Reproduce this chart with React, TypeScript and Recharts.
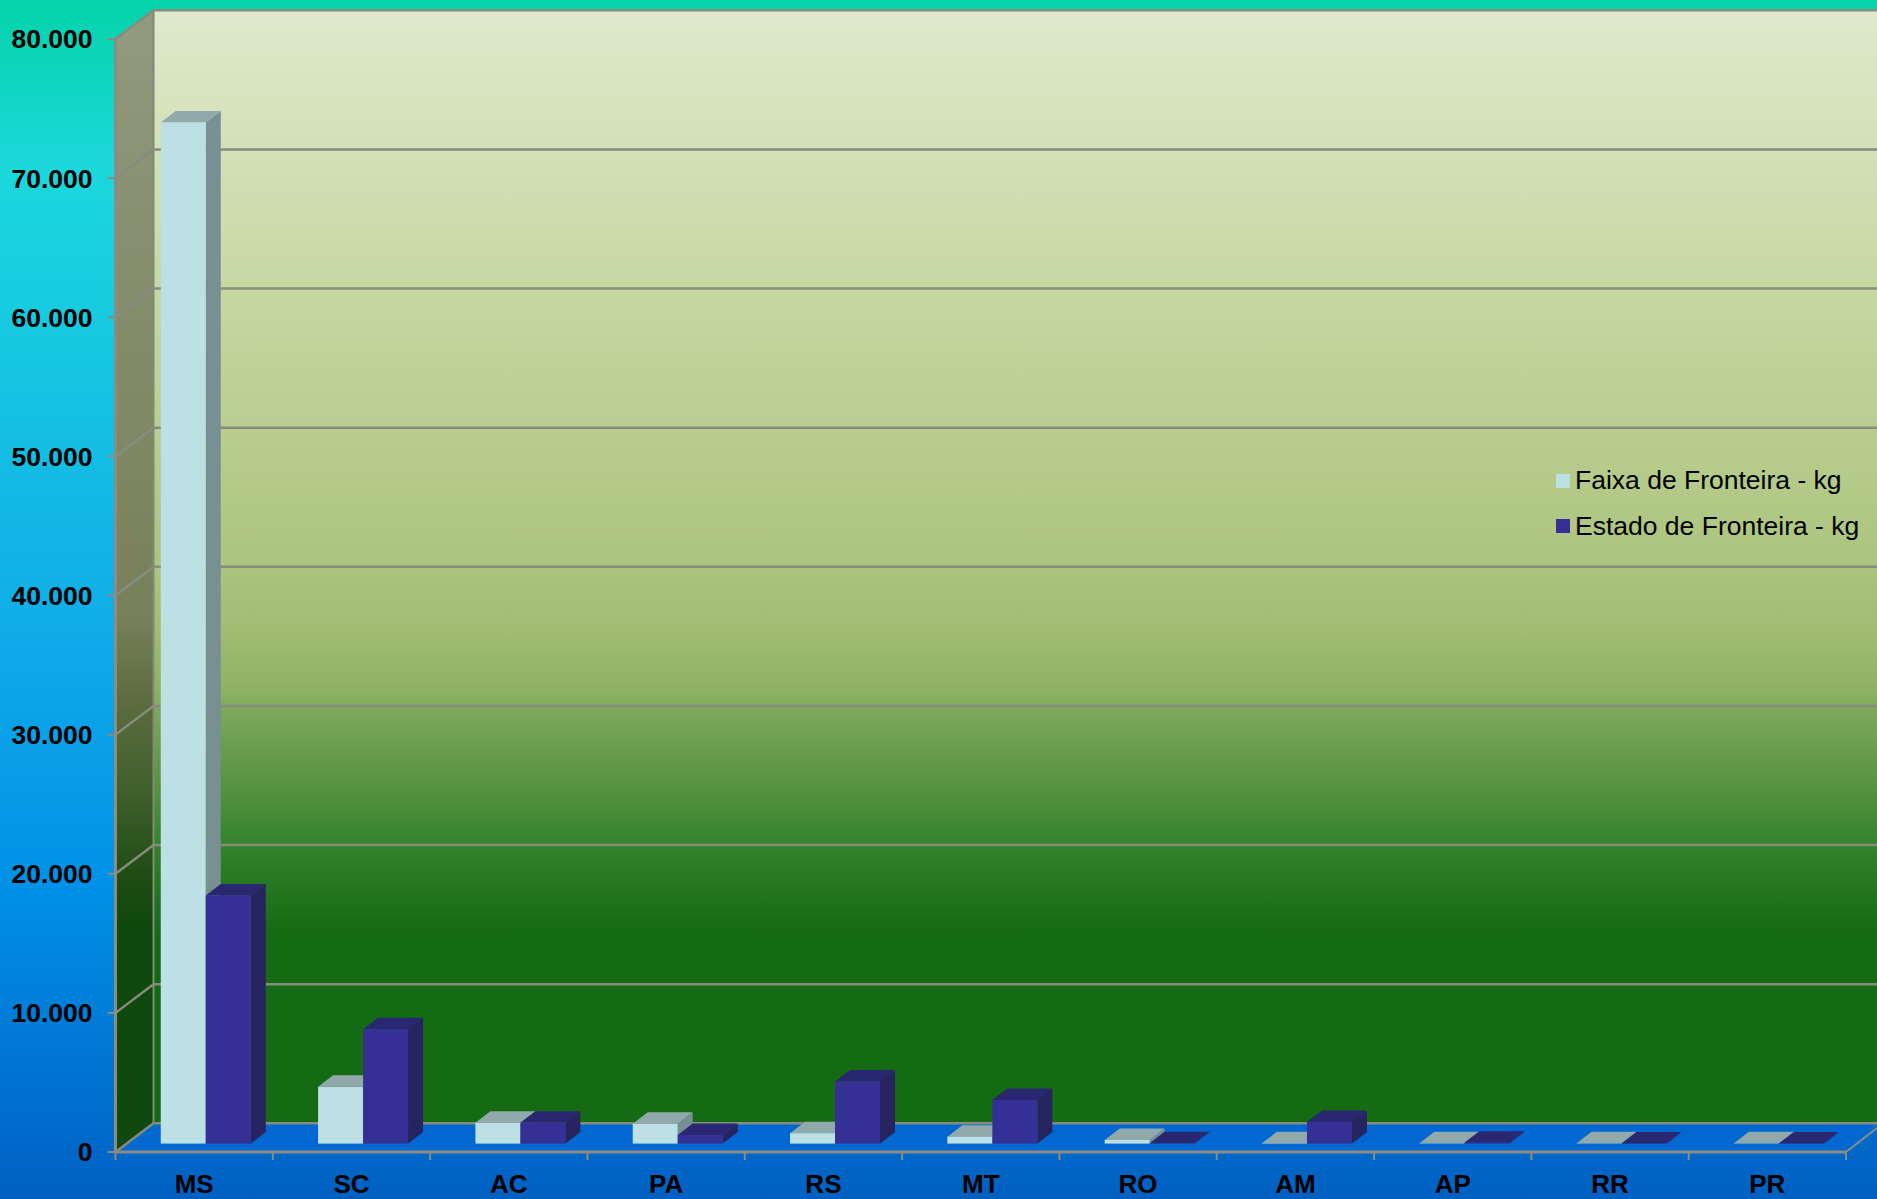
import { BarChart, Bar, XAxis, YAxis, CartesianGrid, Legend } from "recharts";

const states = ["MS", "SC", "AC", "PA", "RS", "MT", "RO", "AM", "AP", "RR", "PR"];
const faixaKg = [73400, 4080, 1490, 1420, 750, 500, 260, 30, 20, 20, 20];
const estadoKg = [17840, 8220, 1490, 620, 4460, 3140, 30, 1550, 60, 10, 10];
const yTicks = [0, 10000, 20000, 30000, 40000, 50000, 60000, 70000, 80000];

const data = states.map((state, i) => ({
  state,
  faixa: faixaKg[i],
  estado: estadoKg[i],
}));

const WIDTH = 1877;
const HEIGHT = 1199;
const PLOT_LEFT = 115.5;
const PLOT_RIGHT = 1846;
const PLOT_TOP = 39;
const PLOT_BOTTOM = 1152;
const BAND = (PLOT_RIGHT - PLOT_LEFT) / states.length;
// depth of the fake 3D box and of the bars inside it
const WALL_DX = 38;
const WALL_DY = 28.7;
const BAR_DX = 15;
const BAR_DY = 11.5;
const BAR_SHIFT_X = 11.6;
const BAR_SHIFT_Y = 8.4;
const GREY = "#8c8c84";

const backStops: [string, string][] = [
  ["0%", "#dfe9cc"],
  ["25%", "#c6d8a2"],
  ["50%", "#abc47e"],
  ["55%", "#a4bd74"],
  ["61%", "#8fb262"],
  ["62.5%", "#80a95c"],
  ["71%", "#4e8f3c"],
  ["76%", "#2f8028"],
  ["83%", "#156a14"],
  ["100%", "#156a14"],
];
const sideStops: [string, string][] = [
  ["0%", "#929a80"],
  ["30%", "#838a68"],
  ["53%", "#78805a"],
  ["60.5%", "#5c6c3e"],
  ["69%", "#3d5e2a"],
  ["76%", "#1f4c14"],
  ["80%", "#10490d"],
  ["100%", "#10490d"],
];

// box walls sit behind the chart, the grid and the bars are drawn on top of them
function Walls() {
  const backX = PLOT_LEFT + WALL_DX;
  const backTop = PLOT_TOP - WALL_DY;
  const backBottom = PLOT_BOTTOM - WALL_DY;
  return (
    <svg width={WIDTH} height={HEIGHT} style={{ position: "absolute", left: 0, top: 0 }}>
      <defs>
        <linearGradient id="backWall" x1="0" y1="0" x2="0" y2="1">
          {backStops.map(([o, c]) => (
            <stop key={o} offset={o} stopColor={c} />
          ))}
        </linearGradient>
        <linearGradient id="sideWall" x1="0" y1="0" x2="0" y2="1">
          {sideStops.map(([o, c]) => (
            <stop key={o} offset={o} stopColor={c} />
          ))}
        </linearGradient>
      </defs>
      <rect x={backX} y={backTop} width={WIDTH - backX} height={backBottom - backTop} fill="url(#backWall)" />
      <polygon
        points={`${PLOT_LEFT},${PLOT_TOP} ${backX},${backTop} ${backX},${backBottom} ${PLOT_LEFT},${PLOT_BOTTOM}`}
        fill="url(#sideWall)"
      />
      <polygon
        points={`${PLOT_LEFT},${PLOT_BOTTOM} ${backX},${backBottom} ${WIDTH},${backBottom} ${PLOT_RIGHT},${PLOT_BOTTOM}`}
        fill="#0068d0"
      />
      <line x1={backX} y1={backTop} x2={backX} y2={backBottom} stroke="#7f8a78" strokeWidth={2} />
      <line x1={PLOT_RIGHT} y1={PLOT_BOTTOM} x2={WIDTH} y2={PLOT_BOTTOM - 24} stroke={GREY} strokeWidth={2} />
    </svg>
  );
}

function GridLine(props: any) {
  const { x1, y1 } = props;
  return (
    <polyline
      points={`${x1},${y1} ${x1 + WALL_DX},${y1 - WALL_DY} ${WIDTH},${y1 - WALL_DY}`}
      fill="none"
      stroke="#878c7e"
      strokeWidth={2.5}
    />
  );
}

function Bar3D(props: any) {
  const { x, y, width, height, front, topFace, side } = props;
  const left = x + BAR_SHIFT_X;
  const right = left + width;
  const yTop = y - BAR_SHIFT_Y;
  const yBase = yTop + height;
  return (
    <g>
      <polygon
        points={`${right},${yTop} ${right + BAR_DX},${yTop - BAR_DY} ${right + BAR_DX},${yBase - BAR_DY} ${right},${yBase}`}
        fill={side}
      />
      <polygon
        points={`${left},${yTop} ${left + BAR_DX},${yTop - BAR_DY} ${right + BAR_DX},${yTop - BAR_DY} ${right},${yTop}`}
        fill={topFace}
      />
      <rect x={left} y={yTop} width={width} height={height} fill={front} />
    </g>
  );
}

function StateTick(props: any) {
  const { x, payload, index } = props;
  return (
    <g>
      <line x1={x - BAND / 2} y1={PLOT_BOTTOM} x2={x - BAND / 2} y2={PLOT_BOTTOM + 8} stroke={GREY} strokeWidth={2} />
      {index === states.length - 1 && (
        <line x1={x + BAND / 2} y1={PLOT_BOTTOM} x2={x + BAND / 2} y2={PLOT_BOTTOM + 8} stroke={GREY} strokeWidth={2} />
      )}
      <text x={x} y={HEIGHT - 6} textAnchor="middle" fontSize={26} fontWeight="bold" fill="#000">
        {payload.value}
      </text>
    </g>
  );
}

function LegendBox(props: any) {
  const { payload } = props;
  return (
    <div style={{ fontFamily: "Liberation Sans", fontSize: 26.5, color: "#000" }}>
      {(payload ?? []).map((item: any) => (
        <div key={item.value} style={{ height: 45.5, display: "flex", alignItems: "center", whiteSpace: "nowrap" }}>
          <span style={{ width: 14, height: 14, marginRight: 5, background: item.color, display: "inline-block" }} />
          {item.value}
        </div>
      ))}
    </div>
  );
}

export default function App() {
  return (
    <div
      style={{
        position: "absolute",
        left: 0,
        top: 0,
        width: WIDTH,
        height: HEIGHT,
        overflow: "hidden",
        fontFamily: "Liberation Sans",
        background:
          "linear-gradient(180deg, #05d3a8 0%, #1bd8dc 14%, #10ade8 52%, #008fe6 75%, #0060c2 100%)",
      }}
    >
      <Walls />
      <BarChart
        width={WIDTH}
        height={HEIGHT}
        data={data}
        margin={{ top: PLOT_TOP, right: WIDTH - PLOT_RIGHT, bottom: 0, left: 0 }}
        barCategoryGap={(BAND - 90) / 2}
        barGap={0}
      >
        <CartesianGrid vertical={false} horizontal={GridLine as any} />
        <XAxis
          dataKey="state"
          height={HEIGHT - PLOT_BOTTOM}
          interval={0}
          tickLine={false}
          axisLine={{ stroke: GREY, strokeWidth: 3 }}
          tick={<StateTick />}
        />
        <YAxis
          width={PLOT_LEFT}
          domain={[0, 80000]}
          ticks={yTicks}
          interval={0}
          tickSize={8}
          tickMargin={15}
          axisLine={{ stroke: GREY, strokeWidth: 3 }}
          tickLine={{ stroke: "#8e8a82", strokeWidth: 2 }}
          tick={{ fontSize: 26.5, fontWeight: "bold", fill: "#000" }}
          tickFormatter={(v: number) => v.toLocaleString("pt-BR")}
        />
        <Legend
          layout="vertical"
          align="center"
          verticalAlign="middle"
          itemSorter={null as any}
          wrapperStyle={{ left: 1556, top: 458, width: 321 }}
          content={<LegendBox />}
        />
        <Bar
          dataKey="faixa"
          name="Faixa de Fronteira - kg"
          fill="#bce0e4"
          isAnimationActive={false}
          shape={(p: any) => <Bar3D {...p} front="#bce0e4" topFace="#92a9ac" side="#788f94" />}
        />
        <Bar
          dataKey="estado"
          name="Estado de Fronteira - kg"
          fill="#343096"
          isAnimationActive={false}
          shape={(p: any) => <Bar3D {...p} front="#343096" topFace="#29276f" side="#26245f" />}
        />
      </BarChart>
    </div>
  );
}
